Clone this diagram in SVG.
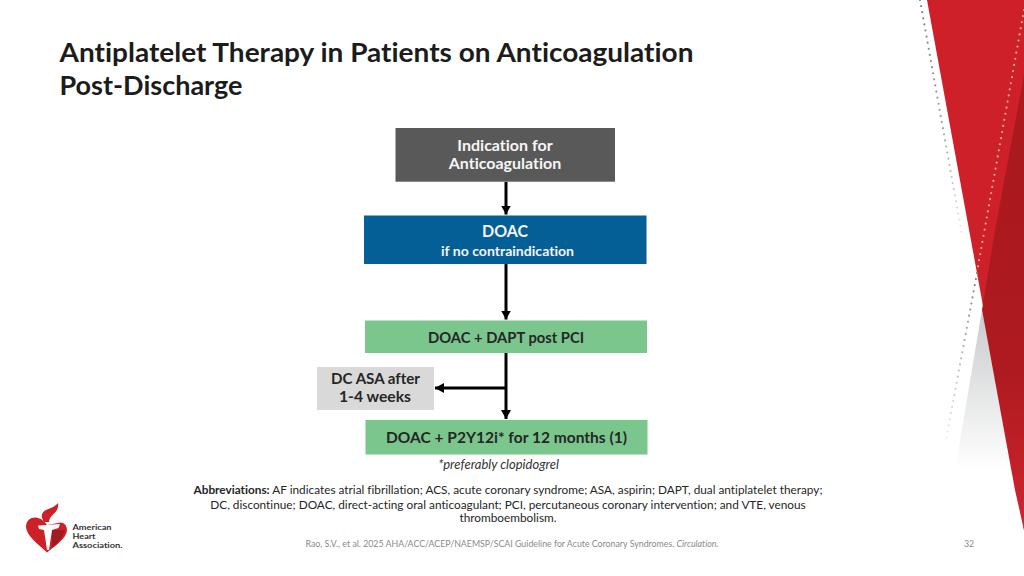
<svg xmlns="http://www.w3.org/2000/svg" width="1024" height="576" viewBox="0 0 1024 576">
<style>
text{font-family:"Lato","Liberation Sans",sans-serif;text-anchor:middle;font-variant-ligatures:none}
.title{font-size:27px;font-weight:700;fill:#1c1c1c;text-anchor:start}
.b{font-size:16px;font-weight:700;fill:#262626}
.w{fill:#f5f5f5}
.s{font-size:11.800px;fill:#262626}
.f{font-size:8.800px;fill:#8a8a8a}
.conn{stroke:#000;stroke-width:3;fill:none}
.dots{fill:none;stroke-width:2.200;stroke-linecap:round;stroke-dasharray:0 6.200}
.logo{font-size:7.600px;font-weight:700;fill:#333;text-anchor:start}
</style>
<defs>
<linearGradient id="dk" x1="0" y1="0" x2="0" y2="1"><stop offset="0" stop-color="#a9191d"/><stop offset=".65" stop-color="#ae1a1f"/><stop offset="1" stop-color="#cf2530"/></linearGradient>
<linearGradient id="gr" x1="0" y1="0" x2="0" y2="1"><stop offset="0" stop-color="#c8cacb"/><stop offset="1" stop-color="#fff"/></linearGradient>
<linearGradient id="fadeL" gradientUnits="userSpaceOnUse" x1="920" y1="0" x2="962" y2="235"><stop offset="0" stop-color="#808080"/><stop offset=".55" stop-color="#a0a0a0"/><stop offset="1" stop-color="#eee"/></linearGradient>
<linearGradient id="fadeR" gradientUnits="userSpaceOnUse" x1="977" y1="273" x2="946" y2="440"><stop offset="0" stop-color="#808080"/><stop offset="1" stop-color="#eee"/></linearGradient>
<marker id="ah" markerUnits="userSpaceOnUse" markerWidth="11" markerHeight="10" refX="9" refY="5" orient="auto"><path d="M0 0L9 5L0 10z" fill="#000"/></marker>
</defs>
<rect width="1024" height="576" fill="#fff"/>
<g id="decor">
<path d="M982 310L955 470H1012Z" fill="url(#gr)"/>
<path d="M927 0H1024V530Z" fill="#ce2029"/>
<path d="M1024 75L995 230L982 310L1015 490L1024 530Z" fill="url(#dk)"/>
<path class="dots" d="M920 0L962 235" stroke="url(#fadeL)"/>
<path class="dots" d="M1024 10L977 272" stroke="#e8a599"/>
<path class="dots" d="M977 273L946 440" stroke="url(#fadeR)"/>
</g>
<text class="title" x="59.500" y="62" textLength="634" lengthAdjust="spacingAndGlyphs">Antiplatelet Therapy in Patients on Anticoagulation</text>
<text class="title" x="59.500" y="95" textLength="183" lengthAdjust="spacingAndGlyphs">Post-Discharge</text>
<g id="connectors">
<path class="conn" d="M506 182V214.500" marker-end="url(#ah)"/>
<path class="conn" d="M506 264V319.500" marker-end="url(#ah)"/>
<path class="conn" d="M506 353V419" marker-end="url(#ah)"/>
<path class="conn" d="M506 388H435" marker-end="url(#ah)"/>
</g>
<g id="n1"><rect x="395.500" y="128" width="219.500" height="53.700" fill="#595959"/>
<text class="b w" x="505" y="151">Indication for</text><text class="b w" x="505" y="169">Anticoagulation</text></g>
<g id="n2"><rect x="364" y="215.500" width="282.500" height="48.500" fill="#045f96"/>
<text class="b w" x="505" y="236.500" style="font-size:17.500px" textLength="46" lengthAdjust="spacingAndGlyphs">DOAC</text><text class="b w" x="507.500" y="256" style="font-size:14px" textLength="133" lengthAdjust="spacingAndGlyphs">if no contraindication</text></g>
<g id="n3"><rect x="365" y="320.500" width="282" height="32.500" fill="#7bc68d"/>
<text class="b" x="506" y="343" textLength="156" lengthAdjust="spacingAndGlyphs">DOAC + DAPT post PCI</text></g>
<g id="n4"><rect x="317" y="367" width="117" height="43" fill="#d9d9d9"/>
<text class="b" x="375.500" y="384" textLength="89" lengthAdjust="spacingAndGlyphs">DC ASA after</text><text class="b" x="375" y="402" textLength="72" lengthAdjust="spacingAndGlyphs">1-4 weeks</text></g>
<g id="n5"><rect x="365.500" y="420" width="282" height="34.500" fill="#7bc68d"/>
<text class="b" x="506.500" y="443" textLength="241" lengthAdjust="spacingAndGlyphs">DOAC + P2Y12i* for 12 months (1)</text></g>
<text x="498.500" y="469" style="font-size:13px;font-style:italic;fill:#333">*preferably clopidogrel</text>
<text class="s" x="508" y="494"><tspan font-weight="700">Abbreviations:</tspan> AF indicates atrial fibrillation; ACS, acute coronary syndrome; ASA, aspirin; DAPT, dual antiplatelet therapy;</text>
<text class="s" x="508" y="508.500">DC, discontinue; DOAC, direct-acting oral anticoagulant; PCI, percutaneous coronary intervention; and VTE, venous</text>
<text class="s" x="508" y="522">thromboembolism.</text>
<text class="f" x="512" y="547">Rao, S.V., et al. 2025 AHA/ACC/ACEP/NAEMSP/SCAI Guideline for Acute Coronary Syndromes. <tspan font-style="italic">Circulation.</tspan></text>
<text class="f" x="969" y="547">32</text>
<g id="logo">
<path d="M47 552.500C39 545 26.500 536 26 527C26 519 33 516.500 38 518C42 519 45 522 47 525L58 523C62 521 67 524 67 530C67 538 55 546 47 552.500Z" fill="#cd2027"/>
<path d="M52 530H65C63 538 56 544 52 548Z" fill="#9f1b20"/>
<path d="M38 525.500L60 524L58.500 528L52 530L49 550H47L44 530L39 529Z" fill="#fff"/>
<path d="M44 522C40 516 42 512 46 510C51 508 56 506 58 503C59 508 56 512 53 514.500C50 517 49 520 49 522Z" fill="#cd2027"/>
<text class="logo" x="72.500" y="530" textLength="39" lengthAdjust="spacingAndGlyphs">American</text>
<text class="logo" x="72.500" y="539" textLength="23" lengthAdjust="spacingAndGlyphs">Heart</text>
<text class="logo" x="72.500" y="548" textLength="50" lengthAdjust="spacingAndGlyphs">Association.</text>
</g>
</svg>
